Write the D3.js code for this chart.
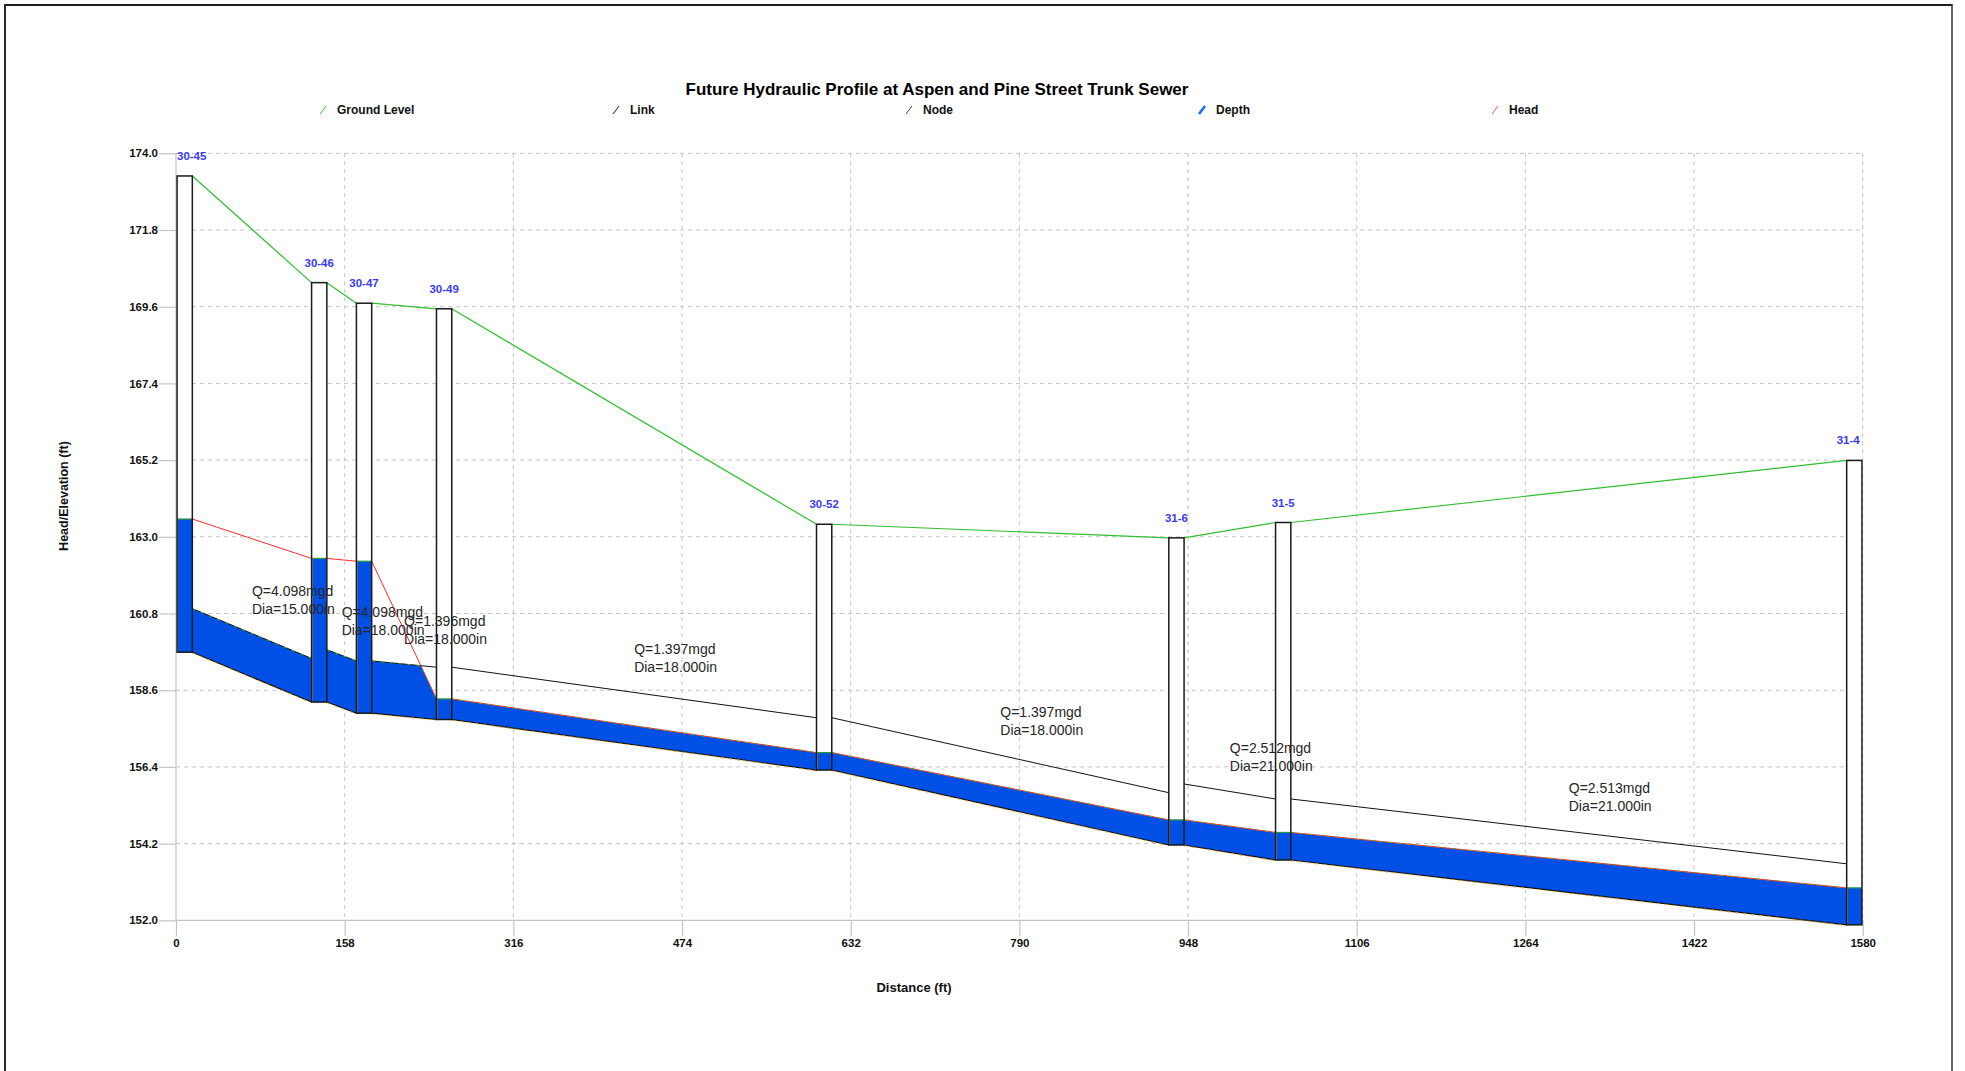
<!DOCTYPE html>
<html>
<head>
<meta charset="utf-8">
<title>Future Hydraulic Profile at Aspen and Pine Street Trunk Sewer</title>
<script src="https://cdn.jsdelivr.net/npm/d3@7"></script>
<style>
  html, body { margin: 0; padding: 0; background: #ffffff; }
  svg { display: block; font-family: "Liberation Sans", Arial, Helvetica, sans-serif; }
</style>
</head>
<body>
<svg id="chart" width="1965" height="1071"></svg>
<script>
// ---- Profile data (elevations in ft, stations in ft along the trunk) ----
const nodeIds       = ["30-45", "30-46", "30-47", "30-49", "30-52", "31-6", "31-5", "31-4"];
const nodeStations  = [1, 127, 169, 244, 600, 930, 1030, 1565];
const groundLevels  = [173.35, 170.29, 169.70, 169.54, 163.36, 162.97, 163.41, 165.19];
const invertLevels  = [159.69, 158.26, 157.94, 157.76, 156.31, 154.16, 153.73, 151.87];
const headLevels    = [163.51, 162.38, 162.30, 158.35, 156.81, 154.88, 154.52, 152.93];

// Links run from node i to node i+1
const linkFlows     = [4.098, 4.098, 1.396, 1.397, 1.397, 2.512, 2.513];   // mgd
const linkDiameters = [15, 18, 18, 18, 18, 21, 21];                       // in

const yTickValues = [152.0, 154.2, 156.4, 158.6, 160.8, 163.0, 165.2, 167.4, 169.6, 171.8, 174.0];
const xTickValues = [0, 158, 316, 474, 632, 790, 948, 1106, 1264, 1422, 1580];
const legendLabels = ["Ground Level", "Link", "Node", "Depth", "Head"];

const chartTitle = "Future Hydraulic Profile at Aspen and Pine Street Trunk Sewer";
const xTitle = "Distance (ft)";
const yTitle = "Head/Elevation (ft)";

// ---- Layout ----
const plot = { left: 176, right: 1862.7, top: 153.3, bottom: 920.3 };
const NODE_W = 14.3; // manhole box width, ft
const COLORS = {
  ground: "#2fbf2f", head: "#ff2a2a", depth: "#0050e6", link: "#111111",
  grid: "#c4c4c4", axis: "#c4c4c4", nodeLabel: "#3a3af0", text: "#262626", edge: "#f5a623"
};

const svg = d3.select("#chart");
const x = d3.scaleLinear().domain([0, 1580]).range([plot.left, plot.right]);
const y = d3.scaleLinear().domain([152, 174]).range([plot.bottom, plot.top]);

// Outer frame
svg.append("line").attr("x1", 4).attr("x2", 1952).attr("y1", 5).attr("y2", 5)
  .attr("stroke", "#1e1e1e").attr("stroke-width", 2);
svg.append("line").attr("x1", 5).attr("x2", 5).attr("y1", 4).attr("y2", 1071)
  .attr("stroke", "#2a2a2a").attr("stroke-width", 2);
svg.append("line").attr("x1", 1952).attr("x2", 1952).attr("y1", 4).attr("y2", 1071)
  .attr("stroke", "#333").attr("stroke-width", 1.5);

// Title
svg.append("text").attr("x", 937).attr("y", 95).attr("text-anchor", "middle")
  .attr("font-size", 17).attr("font-weight", "bold").attr("fill", "#000").text(chartTitle);

// Legend
const legendX = d3.scalePoint().domain(legendLabels).range([323, 1495]);
const legendColor = { "Ground Level": COLORS.ground, "Link": "#222", "Node": "#444", "Depth": "#1a66ff", "Head": "#ff5a5a" };
const legend = svg.append("g").selectAll("g").data(legendLabels).join("g")
  .attr("transform", d => `translate(${legendX(d)},110)`);
legend.append("line").attr("x1", -3).attr("y1", 4).attr("x2", 3).attr("y2", -4)
  .attr("stroke", d => legendColor[d]).attr("stroke-width", d => d === "Depth" ? 2.5 : 1);
legend.append("text").attr("x", 14).attr("y", 4).attr("font-size", 12).attr("font-weight", "bold")
  .attr("fill", "#111").text(d => d);

// Grid
const grid = svg.append("g");
grid.selectAll("line.h").data(yTickValues.filter(v => v > 152)).join("line")
  .attr("x1", plot.left).attr("x2", plot.right).attr("y1", d => y(d)).attr("y2", d => y(d))
  .attr("stroke", COLORS.grid).attr("stroke-dasharray", "4,4");
grid.selectAll("line.v").data(xTickValues.filter(v => v > 0)).join("line")
  .attr("x1", d => x(d)).attr("x2", d => x(d)).attr("y1", plot.top).attr("y2", plot.bottom)
  .attr("stroke", COLORS.grid).attr("stroke-dasharray", "4,4");

// Axes
const yAxis = d3.axisLeft(y).tickValues(yTickValues).tickFormat(d3.format(".1f")).tickSize(17).tickPadding(1);
const xAxis = d3.axisBottom(x).tickValues(xTickValues).tickFormat(d3.format("d")).tickSize(16).tickPadding(3);
const gy = svg.append("g").attr("transform", `translate(${plot.left},0)`).call(yAxis);
const gx = svg.append("g").attr("transform", `translate(0,${plot.bottom})`).call(xAxis);
[gx, gy].forEach(g => {
  g.select(".domain").attr("stroke", COLORS.axis).attr("stroke-width", 1.2);
  g.selectAll(".tick line").attr("stroke", COLORS.axis).attr("stroke-width", 1.2);
  g.selectAll(".tick text").attr("font-size", 11.5).attr("font-weight", "bold").attr("fill", "#111")
    .attr("font-family", "'Liberation Sans', Arial, sans-serif");
});
gy.select(".domain").attr("d", `M0,${plot.top}V${plot.bottom}`);
gx.select(".domain").attr("d", `M${plot.left},0H${plot.right}`);

// Axis titles
svg.append("text").attr("transform", "translate(68,496) rotate(-90)").attr("text-anchor", "middle")
  .attr("font-size", 12.5).attr("font-weight", "bold").attr("fill", "#111").text(yTitle);
svg.append("text").attr("x", 914).attr("y", 992).attr("text-anchor", "middle")
  .attr("font-size", 13).attr("font-weight", "bold").attr("fill", "#111").text(xTitle);

// ---- Links ----
const links = linkFlows.map((q, i) => {
  const dia = linkDiameters[i] / 12;
  return {
    q, diaIn: linkDiameters[i],
    s0: nodeStations[i] + NODE_W, s1: nodeStations[i + 1],
    inv0: invertLevels[i], inv1: invertLevels[i + 1],
    crown0: invertLevels[i] + dia, crown1: invertLevels[i + 1] + dia,
    head0: headLevels[i], head1: headLevels[i + 1],
    gnd0: groundLevels[i], gnd1: groundLevels[i + 1]
  };
});

// Water surface inside a pipe = min(head, crown), with the crossing point inserted
function wetTop(l) {
  const pts = [];
  const f0 = l.head0 - l.crown0, f1 = l.head1 - l.crown1;
  pts.push([l.s0, Math.min(l.head0, l.crown0)]);
  if (f0 * f1 < 0) {
    const t = f0 / (f0 - f1);
    pts.push([l.s0 + t * (l.s1 - l.s0), l.crown0 + t * (l.crown1 - l.crown0)]);
  }
  pts.push([l.s1, Math.min(l.head1, l.crown1)]);
  return pts;
}

const gLinks = svg.append("g");
const line = d3.line().x(d => x(d[0])).y(d => y(d[1]));

links.forEach(l => {
  const top = wetTop(l);
  const poly = top.concat([[l.s1, l.inv1], [l.s0, l.inv0]]);
  gLinks.append("path").attr("d", line(poly) + "Z").attr("fill", COLORS.depth);
  // invert
  gLinks.append("path").attr("d", line([[l.s0, l.inv0], [l.s1, l.inv1]]))
    .attr("stroke", COLORS.link).attr("stroke-width", 1.2).attr("fill", "none");
  gLinks.append("path").attr("d", line([[l.s0, l.inv0], [l.s1, l.inv1]]))
    .attr("stroke", COLORS.edge).attr("stroke-width", 1).attr("stroke-dasharray", "3,5")
    .attr("transform", "translate(0,0.8)").attr("fill", "none");
  // crown
  gLinks.append("path").attr("d", line([[l.s0, l.crown0], [l.s1, l.crown1]]))
    .attr("stroke", COLORS.link).attr("stroke-width", 1).attr("fill", "none");
  // hydraulic grade
  gLinks.append("path").attr("d", line([[l.s0, l.head0], [l.s1, l.head1]]))
    .attr("stroke", COLORS.head).attr("stroke-width", 1).attr("fill", "none");
  gLinks.append("path").attr("d", line(top))
    .attr("stroke", COLORS.ground).attr("stroke-width", 1).attr("stroke-dasharray", "3,6").attr("fill", "none");
  // ground
  gLinks.append("path").attr("d", line([[l.s0, l.gnd0], [l.s1, l.gnd1]]))
    .attr("stroke", COLORS.ground).attr("stroke-width", 1.2).attr("fill", "none");
});

// ---- Nodes (manholes) ----
const gNodes = svg.append("g");
nodeIds.forEach((id, i) => {
  const x0 = x(nodeStations[i]), x1 = x(nodeStations[i] + NODE_W);
  const yTop = y(groundLevels[i]), yBot = y(invertLevels[i]), yHead = y(headLevels[i]);
  gNodes.append("rect").attr("x", x0).attr("y", yTop).attr("width", x1 - x0).attr("height", yBot - yTop)
    .attr("fill", "#fff");
  gNodes.append("rect").attr("x", x0).attr("y", yHead).attr("width", x1 - x0).attr("height", yBot - yHead)
    .attr("fill", COLORS.depth);
  gNodes.append("line").attr("x1", x0).attr("x2", x1).attr("y1", yHead).attr("y2", yHead)
    .attr("stroke", "#2a9a3a").attr("stroke-width", 1.2);
  gNodes.append("line").attr("x1", x0 + 0.5).attr("x2", x0 + 0.5).attr("y1", yHead).attr("y2", yBot)
    .attr("stroke", COLORS.edge).attr("stroke-width", 1);
  gNodes.append("rect").attr("x", x0).attr("y", yTop).attr("width", x1 - x0).attr("height", yBot - yTop)
    .attr("fill", "none").attr("stroke", "#1a1a1a").attr("stroke-width", 1.5);

  const label = gNodes.append("text").attr("y", yTop - 16).attr("font-size", 11.5).attr("font-weight", "bold")
    .attr("fill", COLORS.nodeLabel).text(id);
  const w = label.node().getComputedTextLength();
  let lx = (x0 + x1) / 2 - w / 2;
  lx = Math.max(plot.left + 1, Math.min(plot.right - w - 3, lx));
  label.attr("x", lx);
});

// ---- Link annotations ----
const gLabels = svg.append("g");
links.forEach(l => {
  const mx = (x(l.s0) + x(l.s1)) / 2;
  const cy = y((l.crown0 + l.crown1) / 2);
  const t = gLabels.append("text").attr("font-size", 14).attr("fill", COLORS.text);
  t.append("tspan").attr("x", mx).attr("y", cy - 38).text(`Q=${l.q.toFixed(3)}mgd`);
  t.append("tspan").attr("x", mx).attr("y", cy - 20).text(`Dia=${l.diaIn.toFixed(3)}in`);
});
</script>
</body>
</html>
